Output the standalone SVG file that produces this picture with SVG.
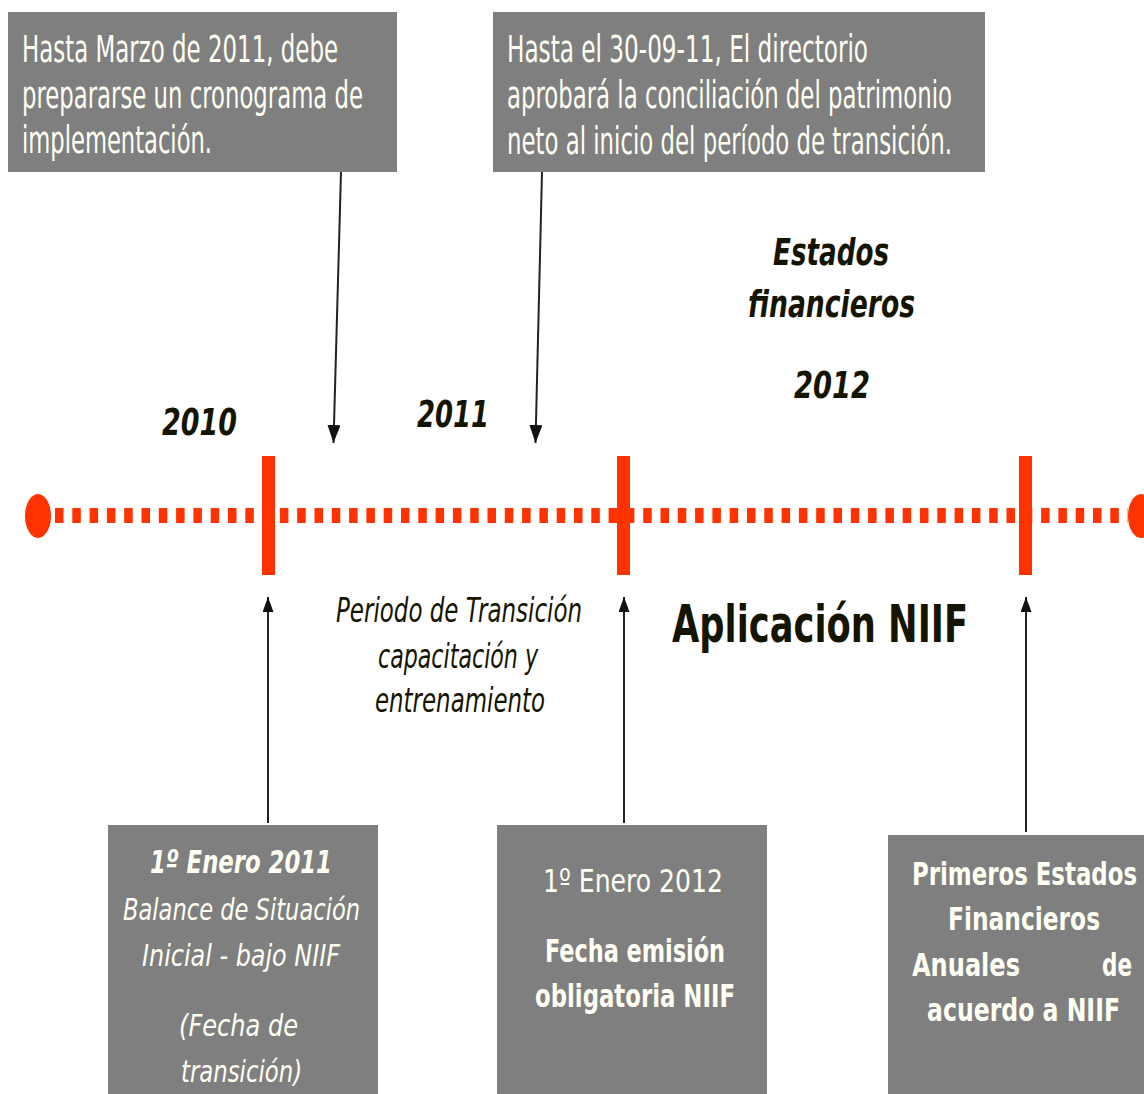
<svg xmlns="http://www.w3.org/2000/svg" width="1144" height="1094" viewBox="0 0 1144 1094">
  <style>
    .box { fill: #7f7f7f; }
    .bt { font-family: "DejaVu Sans", Verdana, sans-serif; fill: #fffff4; }
    .dk { font-family: "DejaVu Sans", Verdana, sans-serif; fill: #141400; }
    .b { font-weight: bold; }
    .i { font-style: italic; }
    .tl { fill: #ff3300; }
    .conn { stroke: #222; stroke-width: 2; fill: none; }
  </style>
  <defs>
    <marker id="headDown" viewBox="0 0 18 13" refX="18" refY="6.5" markerWidth="18" markerHeight="13" markerUnits="userSpaceOnUse" orient="auto">
      <path d="M0,0 L18,6.5 L0,13 z" fill="#111"/>
    </marker>
    <marker id="headUp" viewBox="0 0 15 11" refX="15" refY="5.5" markerWidth="15" markerHeight="11" markerUnits="userSpaceOnUse" orient="auto">
      <path d="M0,0 L15,5.5 L0,11 z" fill="#111"/>
    </marker>
  </defs>

  <rect width="1144" height="1094" fill="#ffffff"/>

  <!-- timeline -->
  <g id="timeline">
    <line x1="55" y1="515.5" x2="1128" y2="515.5" stroke="#ff3300" stroke-width="15" stroke-dasharray="8.5 8.8"/>
    <ellipse class="tl" cx="38" cy="516" rx="13" ry="22"/>
    <ellipse class="tl" cx="1141" cy="516" rx="13" ry="22"/>
    <rect class="tl" x="262" y="456" width="13" height="119"/>
    <rect class="tl" x="617" y="456" width="13" height="119"/>
    <rect class="tl" x="1019" y="456" width="13" height="119"/>
  </g>

  <!-- connectors -->
  <g id="connectors">
    <line class="conn" x1="341" y1="172" x2="333.5" y2="443" marker-end="url(#headDown)"/>
    <line class="conn" x1="542" y1="172" x2="535.5" y2="443" marker-end="url(#headDown)"/>
    <line class="conn" x1="268" y1="823" x2="268" y2="597" marker-end="url(#headUp)"/>
    <line class="conn" x1="624" y1="823" x2="624" y2="597" marker-end="url(#headUp)"/>
    <line class="conn" x1="1026" y1="832" x2="1026" y2="597" marker-end="url(#headUp)"/>
  </g>

  <!-- texts are drawn narrow: each line is scaled to 62% width from its start point -->

  <!-- note: preparation schedule -->
  <g id="note-cronograma">
    <rect class="box" x="8" y="12" width="389" height="160"/>
    <text class="bt" font-size="37" transform="translate(22 62) scale(0.62 1)" textLength="509.7" lengthAdjust="spacingAndGlyphs">Hasta Marzo de 2011, debe</text>
    <text class="bt" font-size="37" transform="translate(22 108) scale(0.62 1)" textLength="550" lengthAdjust="spacingAndGlyphs">prepararse un cronograma de</text>
    <text class="bt" font-size="37" transform="translate(22 153) scale(0.62 1)" textLength="306.5" lengthAdjust="spacingAndGlyphs">implementación.</text>
  </g>

  <!-- note: board approval -->
  <g id="note-directorio">
    <rect class="box" x="493" y="12" width="492" height="160"/>
    <text class="bt" font-size="37" transform="translate(507 62) scale(0.62 1)" textLength="582.3" lengthAdjust="spacingAndGlyphs">Hasta el 30-09-11, El directorio</text>
    <text class="bt" font-size="37" transform="translate(507 108) scale(0.62 1)" textLength="717.7" lengthAdjust="spacingAndGlyphs">aprobará la conciliación del patrimonio</text>
    <text class="bt" font-size="37" transform="translate(507 154) scale(0.62 1)" textLength="717.7" lengthAdjust="spacingAndGlyphs">neto al inicio del período de transición.</text>
  </g>

  <!-- year labels -->
  <g id="year-2010">
    <text class="dk b i" font-size="38" transform="translate(162 435) scale(0.62 1)" textLength="121" lengthAdjust="spacingAndGlyphs">2010</text>
  </g>
  <g id="year-2011">
    <text class="dk b i" font-size="38" transform="translate(417 427) scale(0.62 1)" textLength="116.1" lengthAdjust="spacingAndGlyphs">2011</text>
  </g>
  <g id="estados-2012">
    <text class="dk b i" font-size="38" transform="translate(773 265) scale(0.62 1)" textLength="187.1" lengthAdjust="spacingAndGlyphs">Estados</text>
    <text class="dk b i" font-size="38" transform="translate(748 317) scale(0.62 1)" textLength="269.4" lengthAdjust="spacingAndGlyphs">financieros</text>
    <text class="dk b i" font-size="38" transform="translate(794 398) scale(0.62 1)" textLength="122.6" lengthAdjust="spacingAndGlyphs">2012</text>
  </g>

  <!-- period labels -->
  <g id="periodo-transicion">
    <text class="dk i" font-size="33" transform="translate(336 622) scale(0.62 1)" textLength="396.8" lengthAdjust="spacingAndGlyphs">Periodo de Transición</text>
    <text class="dk i" font-size="33" transform="translate(378 668) scale(0.62 1)" textLength="258.1" lengthAdjust="spacingAndGlyphs">capacitación y</text>
    <text class="dk i" font-size="33" transform="translate(375 712) scale(0.62 1)" textLength="274.2" lengthAdjust="spacingAndGlyphs">entrenamiento</text>
  </g>
  <g id="aplicacion-niif">
    <text class="dk b" font-size="52" transform="translate(672 642) scale(0.62 1)" textLength="477.4" lengthAdjust="spacingAndGlyphs">Aplicación NIIF</text>
  </g>

  <!-- milestone: transition date -->
  <g id="hito-2011">
    <rect class="box" x="108" y="825" width="270" height="269"/>
    <text class="bt b i" font-size="32" transform="translate(150 873) scale(0.62 1)" textLength="293.5" lengthAdjust="spacingAndGlyphs">1º Enero 2011</text>
    <text class="bt i" font-size="31" transform="translate(123 920) scale(0.62 1)" textLength="382.3" lengthAdjust="spacingAndGlyphs">Balance de Situación</text>
    <text class="bt i" font-size="31" transform="translate(142 966) scale(0.62 1)" textLength="319.4" lengthAdjust="spacingAndGlyphs">Inicial - bajo NIIF</text>
    <text class="bt i" font-size="31" transform="translate(179 1036) scale(0.62 1)" textLength="191.9" lengthAdjust="spacingAndGlyphs">(Fecha de</text>
    <text class="bt i" font-size="31" transform="translate(181 1082) scale(0.62 1)" textLength="195.2" lengthAdjust="spacingAndGlyphs">transición)</text>
  </g>

  <!-- milestone: mandatory issue date -->
  <g id="hito-2012">
    <rect class="box" x="497" y="825" width="270" height="269"/>
    <text class="bt" font-size="32" transform="translate(543 892) scale(0.62 1)" textLength="290.3" lengthAdjust="spacingAndGlyphs">1º Enero 2012</text>
    <text class="bt b" font-size="32" transform="translate(545 962) scale(0.62 1)" textLength="290.3" lengthAdjust="spacingAndGlyphs">Fecha emisión</text>
    <text class="bt b" font-size="32" transform="translate(535 1007) scale(0.62 1)" textLength="322.6" lengthAdjust="spacingAndGlyphs">obligatoria NIIF</text>
  </g>

  <!-- milestone: first annual statements -->
  <g id="primeros-estados">
    <rect class="box" x="888" y="835" width="256" height="259"/>
    <text class="bt b" font-size="32" transform="translate(912 885) scale(0.62 1)" textLength="362.9" lengthAdjust="spacingAndGlyphs">Primeros Estados</text>
    <text class="bt b" font-size="32" transform="translate(948 930) scale(0.62 1)" textLength="245.2" lengthAdjust="spacingAndGlyphs">Financieros</text>
    <text class="bt b" font-size="32" transform="translate(912 976) scale(0.62 1)" textLength="174.2" lengthAdjust="spacingAndGlyphs">Anuales</text>
    <text class="bt b" font-size="32" transform="translate(1102 976) scale(0.62 1)" textLength="48.4" lengthAdjust="spacingAndGlyphs">de</text>
    <text class="bt b" font-size="32" transform="translate(927 1021) scale(0.62 1)" textLength="311.3" lengthAdjust="spacingAndGlyphs">acuerdo a NIIF</text>
  </g>
</svg>
